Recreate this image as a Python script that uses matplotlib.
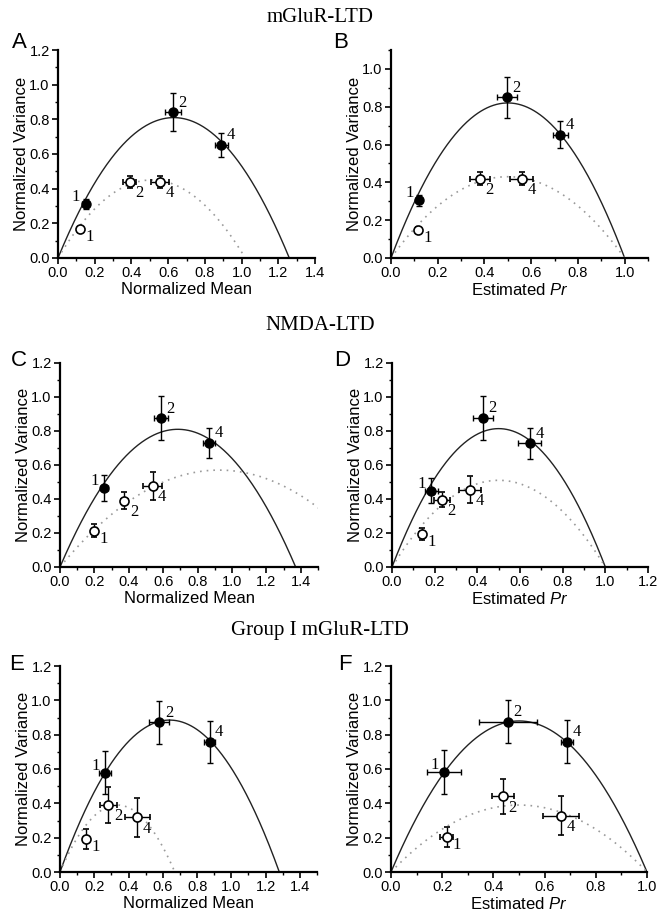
import numpy as np
import matplotlib.pyplot as plt
from matplotlib.ticker import MultipleLocator

plt.rcParams['font.family'] = ['Liberation Sans', 'DejaVu Sans']
plt.rcParams['mathtext.fontset'] = 'custom'
plt.rcParams['mathtext.rm'] = 'Liberation Sans'
plt.rcParams['mathtext.it'] = 'Liberation Sans:italic'

# метки точек (1, 2, 4)
point_labels = ['1', '2', '4']

# ---- A: mGluR-LTD, mean
A_fill_x = [0.151, 0.627, 0.890]
A_fill_y = [0.310, 0.840, 0.654]
A_fill_xerr = [0.020, 0.045, 0.035]
A_fill_yerr = [0.030, 0.110, 0.070]
A_open_x = [0.118, 0.390, 0.556]
A_open_y = [0.167, 0.437, 0.437]
A_open_xerr = [0.008, 0.035, 0.050]
A_open_yerr = [0.008, 0.035, 0.035]
A_fit_fill = (1.26, 0.81)   # (пересечение с осью x, максимум)
A_fit_open = (1.02, 0.45)

# ---- B: mGluR-LTD, Pr
B_fill_x = [0.120, 0.496, 0.724]
B_fill_y = [0.305, 0.849, 0.653]
B_fill_xerr = [0.012, 0.043, 0.032]
B_fill_yerr = [0.030, 0.110, 0.072]
B_open_x = [0.117, 0.381, 0.560]
B_open_y = [0.150, 0.419, 0.419]
B_open_xerr = [0.008, 0.044, 0.049]
B_open_yerr = [0.012, 0.034, 0.035]
B_fit_fill = (1.0, 0.82)
B_fit_open = (1.0, 0.43)

# ---- C: NMDA-LTD, mean
C_fill_x = [0.258, 0.588, 0.868]
C_fill_y = [0.465, 0.875, 0.729]
C_fill_xerr = [0.020, 0.039, 0.034]
C_fill_yerr = [0.074, 0.130, 0.090]
C_open_x = [0.200, 0.373, 0.538]
C_open_y = [0.214, 0.390, 0.478]
C_open_xerr = [0.015, 0.020, 0.053]
C_open_yerr = [0.037, 0.050, 0.083]
C_fit_fill = (1.37, 0.81)
C_fit_open = (1.85, 0.57)

# ---- D: NMDA-LTD, Pr
D_fill_x = [0.184, 0.425, 0.645]
D_fill_y = [0.450, 0.878, 0.728]
D_fill_xerr = [0.030, 0.047, 0.055]
D_fill_yerr = [0.073, 0.130, 0.090]
D_open_x = [0.140, 0.234, 0.364]
D_open_y = [0.194, 0.396, 0.454]
D_open_xerr = [0.015, 0.037, 0.052]
D_open_yerr = [0.035, 0.045, 0.080]
D_fit_fill = (1.0, 0.814)
D_fit_open = (1.0, 0.51)

# ---- E: Group I mGluR-LTD, mean
E_fill_x = [0.263, 0.579, 0.873]
E_fill_y = [0.579, 0.872, 0.756]
E_fill_xerr = [0.034, 0.060, 0.034]
E_fill_yerr = [0.127, 0.126, 0.123]
E_open_x = [0.150, 0.283, 0.452]
E_open_y = [0.192, 0.391, 0.318]
E_open_xerr = [0.010, 0.049, 0.075]
E_open_yerr = [0.060, 0.104, 0.114]
E_fit_fill = (1.28, 0.885)
E_fit_open = (0.67, 0.39)

# ---- F: Group I mGluR-LTD, Pr
F_fill_x = [0.207, 0.456, 0.687]
F_fill_y = [0.581, 0.876, 0.760]
F_fill_xerr = [0.067, 0.114, 0.023]
F_fill_yerr = [0.129, 0.124, 0.124]
F_open_x = [0.218, 0.437, 0.664]
F_open_y = [0.203, 0.440, 0.329]
F_open_xerr = [0.026, 0.043, 0.070]
F_open_yerr = [0.057, 0.103, 0.111]
F_fit_fill = (1.0, 0.88)
F_fit_open = (1.0, 0.39)

group_titles = ['mGluR-LTD', 'NMDA-LTD', 'Group I mGluR-LTD']

W, H = 659, 917

# смещения подписей точек (в пунктах)
fill_offsets = [(-7, 5), (7, 7), (7, 7)]
open_offsets = [(7, -6), (7, -8), (7, -8)]


def parabola(x0, peak, xmax):
    # параболическая модель дисперсия-среднее
    x = np.linspace(0, x0, 300)
    return x, 4 * peak * (x / x0) * (1 - x / x0)


def draw_panel(ax, fill, opn, fit_fill, fit_open, xlim, ylim, xmax_tick, ymax_tick, xlabel):
    fx, fy, fxe, fye = fill
    ox, oy, oxe, oye = opn

    x, v = parabola(*fit_fill, xlim[1])
    ax.plot(x, v, color='#222222', lw=1.0, zorder=1)
    x, v = parabola(*fit_open, xlim[1])
    ax.plot(x, v, color='#9a9a9a', lw=1.2, ls=(0, (1, 3)), zorder=1)

    ax.errorbar(fx, fy, xerr=fxe, yerr=fye, fmt='o', color='k', mfc='k', mec='k',
                ms=6.5, elinewidth=1, capsize=2.5, capthick=1, zorder=3)
    ax.errorbar(ox, oy, xerr=oxe, yerr=oye, fmt='o', color='k', mfc='white', mec='k',
                ms=6.5, mew=1.2, elinewidth=1, capsize=2.5, capthick=1, zorder=3)

    for i, lbl in enumerate(point_labels):
        ax.annotate(lbl, (fx[i], fy[i]), xytext=fill_offsets[i], textcoords='offset points',
                    ha='center', va='center', fontsize=12, family='Liberation Serif')
        ax.annotate(lbl, (ox[i], oy[i]), xytext=open_offsets[i], textcoords='offset points',
                    ha='center', va='center', fontsize=12, family='Liberation Serif')

    ax.set_xlim(*xlim)
    ax.set_ylim(*ylim)
    ax.set_xticks(np.arange(0, xmax_tick + 0.01, 0.2))
    ax.set_yticks(np.arange(0, ymax_tick + 0.01, 0.2))
    ax.xaxis.set_major_formatter(plt.FormatStrFormatter('%.1f'))
    ax.yaxis.set_major_formatter(plt.FormatStrFormatter('%.1f'))
    ax.xaxis.set_minor_locator(MultipleLocator(0.1))
    ax.yaxis.set_minor_locator(MultipleLocator(0.1))
    ax.tick_params(which='major', direction='out', length=4, width=1.2, labelsize=10.5, pad=2)
    ax.tick_params(which='minor', direction='out', length=2.5, width=1)
    for s in ['top', 'right']:
        ax.spines[s].set_visible(False)
    for s in ['left', 'bottom']:
        ax.spines[s].set_linewidth(1.6)
    ax.set_ylabel('Normalized Variance', fontsize=12, labelpad=0)
    ax.set_xlabel(xlabel, fontsize=12, labelpad=1)


fig = plt.figure(figsize=(W / 100, H / 100), dpi=100)

# позиции осей в пикселях: (лево, низ, право, верх)
boxes = {
    'A': (58, 258, 315, 50), 'B': (391, 258, 648, 50),
    'C': (60, 567, 318, 363), 'D': (392, 567, 648, 363),
    'E': (60, 872, 317, 666), 'F': (391, 872, 647, 666),
}


def add_axes(key):
    l, b, r, t = boxes[key]
    return fig.add_axes([l / W, 1 - b / H, (r - l) / W, (b - t) / H])


mean_lbl = 'Normalized Mean'
pr_lbl = r'Estimated $\it{Pr}$'

panels = [
    ('A', (A_fill_x, A_fill_y, A_fill_xerr, A_fill_yerr), (A_open_x, A_open_y, A_open_xerr, A_open_yerr),
     A_fit_fill, A_fit_open, (0, 1.4), (0, 1.2), 1.4, 1.2, mean_lbl),
    ('B', (B_fill_x, B_fill_y, B_fill_xerr, B_fill_yerr), (B_open_x, B_open_y, B_open_xerr, B_open_yerr),
     B_fit_fill, B_fit_open, (0, 1.1), (0, 1.1), 1.0, 1.0, pr_lbl),
    ('C', (C_fill_x, C_fill_y, C_fill_xerr, C_fill_yerr), (C_open_x, C_open_y, C_open_xerr, C_open_yerr),
     C_fit_fill, C_fit_open, (0, 1.5), (0, 1.2), 1.4, 1.2, mean_lbl),
    ('D', (D_fill_x, D_fill_y, D_fill_xerr, D_fill_yerr), (D_open_x, D_open_y, D_open_xerr, D_open_yerr),
     D_fit_fill, D_fit_open, (0, 1.2), (0, 1.2), 1.2, 1.2, pr_lbl),
    ('E', (E_fill_x, E_fill_y, E_fill_xerr, E_fill_yerr), (E_open_x, E_open_y, E_open_xerr, E_open_yerr),
     E_fit_fill, E_fit_open, (0, 1.5), (0, 1.2), 1.4, 1.2, mean_lbl),
    ('F', (F_fill_x, F_fill_y, F_fill_xerr, F_fill_yerr), (F_open_x, F_open_y, F_open_xerr, F_open_yerr),
     F_fit_fill, F_fit_open, (0, 1.0), (0, 1.2), 1.0, 1.2, pr_lbl),
]

for key, fill, opn, ff, fo, xlim, ylim, xt, yt, xl in panels:
    ax = add_axes(key)
    draw_panel(ax, fill, opn, ff, fo, xlim, ylim, xt, yt, xl)

# буквы панелей
letter_pos = {'A': (19, 43), 'B': (341, 43), 'C': (19, 360),
              'D': (342, 360), 'E': (17, 665), 'F': (345, 665)}
for k, (px, py) in letter_pos.items():
    fig.text(px / W, 1 - py / H, k, fontsize=16, ha='center', va='center')

# заголовки групп
for title, py in zip(group_titles, [18, 326, 630]):
    fig.text(320 / W, 1 - py / H, title, fontsize=15, ha='center', va='center',
             family='Liberation Serif')

fig.savefig('out.png', dpi=100)
